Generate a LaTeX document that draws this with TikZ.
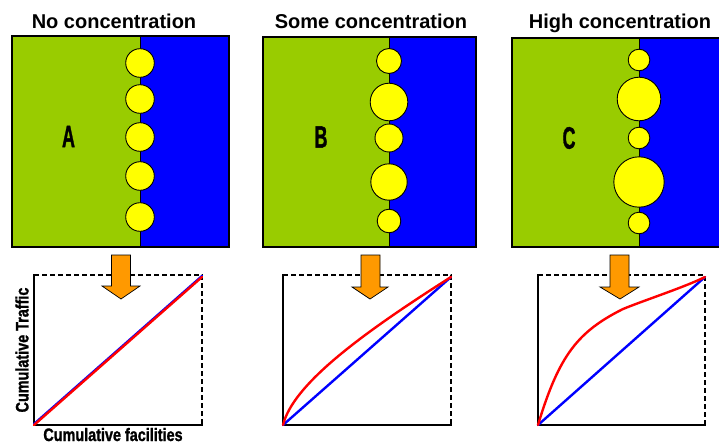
\documentclass[tikz,border=0pt]{standalone}
\usepackage{fontspec}
\usepackage{graphicx}
\setmainfont{Liberation Sans}
\newfontfamily\heavyfont[UprightFont={* Bold},FakeBold=1.5]{Liberation Sans}
\definecolor{grn}{RGB}{153,204,0}
\definecolor{blu}{RGB}{0,0,255}
\definecolor{yel}{RGB}{255,255,0}
\definecolor{org}{RGB}{255,153,0}
\definecolor{rd}{RGB}{255,0,0}
\begin{document}
\begin{tikzpicture}[x=1pt,y=-1pt,
  panel/.style={draw=black,line width=2.2pt},
  divider/.style={draw=black,line width=0.9pt},
  ball/.style={draw=black,fill=yel,line width=0.9pt},
  title/.style={font=\bfseries\fontsize{20}{20}\selectfont,inner sep=0pt,anchor=base},
  letter/.style={font=\heavyfont\fontsize{31}{31}\selectfont,inner sep=0pt},
  axlab/.style={font=\heavyfont\fontsize{18}{18}\selectfont,inner sep=0pt},
  solidax/.style={draw=black,line width=2.4pt},
  dashax/.style={draw=black,line width=1.8pt,dash pattern=on 5pt off 3pt},
  arrowbox/.style={draw=black,fill=org,line width=0.7pt,line join=miter},
  redcurve/.style={draw=rd,line width=2.4pt,line cap=round,line join=round},
  bluecurve/.style={draw=blu,line width=2.4pt,line cap=round}]
\useasboundingbox (0,0) rectangle (719,444);
\fill[white] (0,0) rectangle (719,444);
\clip (0,0) rectangle (719,444);

% ---------- Panel A ----------
\fill[grn] (12,36) rectangle (140,247);
\fill[blu] (140,36) rectangle (229,247);
\draw[divider] (140,36) -- (140,247);
\draw[panel] (12,36) rectangle (229,247);
\foreach \y in {63,99,137,176,217} \draw[ball] (140,\y) circle (14.3);
\node[title] (tA) at (114,29) {No concentration};
\node[letter] (lA) at (68.5,136.5) {\scalebox{0.58}[1]{A}};

% ---------- Panel B ----------
\fill[grn] (263,37) rectangle (389,247);
\fill[blu] (389,37) rectangle (476,247);
\draw[divider] (389,37) -- (389,247);
\draw[panel] (263,37) rectangle (476,247);
\draw[ball] (389,61) circle (12.5);
\draw[ball] (389,102) circle (18.8);
\draw[ball] (389,138) circle (14);
\draw[ball] (389,182) circle (18.2);
\draw[ball] (389,221) circle (11.8);
\node[title] (tB) at (371,29) {Some concentration};
\node[letter] (lB) at (321,137) {\scalebox{0.58}[1]{B}};

% ---------- Panel C ----------
\fill[grn] (512,38) rectangle (639,247);
\fill[blu] (639,38) rectangle (725,247);
\draw[divider] (639,38) -- (639,247);
\draw[panel] (512,38) rectangle (725,247);
\draw[ball] (639,60) circle (10.8);
\draw[ball] (639,99) circle (21.8);
\draw[ball] (639,138) circle (10.8);
\draw[ball] (639,182) circle (25.2);
\draw[ball] (639,223) circle (10.8);
\node[title] (tC) at (620,29) {High concentration};
\node[letter] (lC) at (569,138) {\scalebox{0.58}[1]{C}};

% ---------- Chart A ----------
\coordinate (a0) at (34,425);
\coordinate (a1) at (202,277);
\draw[dashax] (34,275) -- (202,275) -- (202,425);
\draw[solidax] (34,274) -- (34,425) -- (203,425);
\draw[bluecurve] (34,424) -- (202,276);
\draw[redcurve] (a0) -- (a1);
\draw[arrowbox] (111.5,255) -- (111.5,286) -- (102,286) -- (121,299) -- (140,286) -- (130.5,286) -- (130.5,255) -- cycle;
\node[axlab,rotate=90] (yl) at (22,350) {\scalebox{0.8}[1]{Cumulative Traffic}};
\node[axlab,anchor=base] (xl) at (113,441) {\scalebox{0.8}[1]{Cumulative facilities}};

% ---------- Chart B ----------
\coordinate (b0) at (283,425);
\coordinate (b1) at (451,277);
\draw[dashax] (283,275) -- (451,275) -- (451,425);
\draw[solidax] (283,274) -- (283,425) -- (452,425);
\draw[bluecurve] (b0) -- (b1);
\draw[redcurve] (b0) .. controls (293,385) and (358,336) .. (b1);
\draw[arrowbox] (361,255) -- (361,287) -- (352,287) -- (370,299) -- (388,287) -- (380,287) -- (380,255) -- cycle;

% ---------- Chart C ----------
\coordinate (c0) at (538,425);
\coordinate (cm) at (623,309);
\coordinate (c1) at (705,277);
\draw[dashax] (538,275) -- (705,275) -- (705,425);
\draw[solidax] (538,274) -- (538,425) -- (706,425);
\draw[bluecurve] (c0) -- (c1);
\draw[redcurve] (c0) .. controls (559,355) and (578,331.5) .. (cm) .. controls (645,300) and (685,287) .. (c1);
\draw[arrowbox] (610,255) -- (610,287) -- (600,287) -- (620,299) -- (639,287) -- (629,287) -- (629,255) -- cycle;
\end{tikzpicture}
\end{document}
